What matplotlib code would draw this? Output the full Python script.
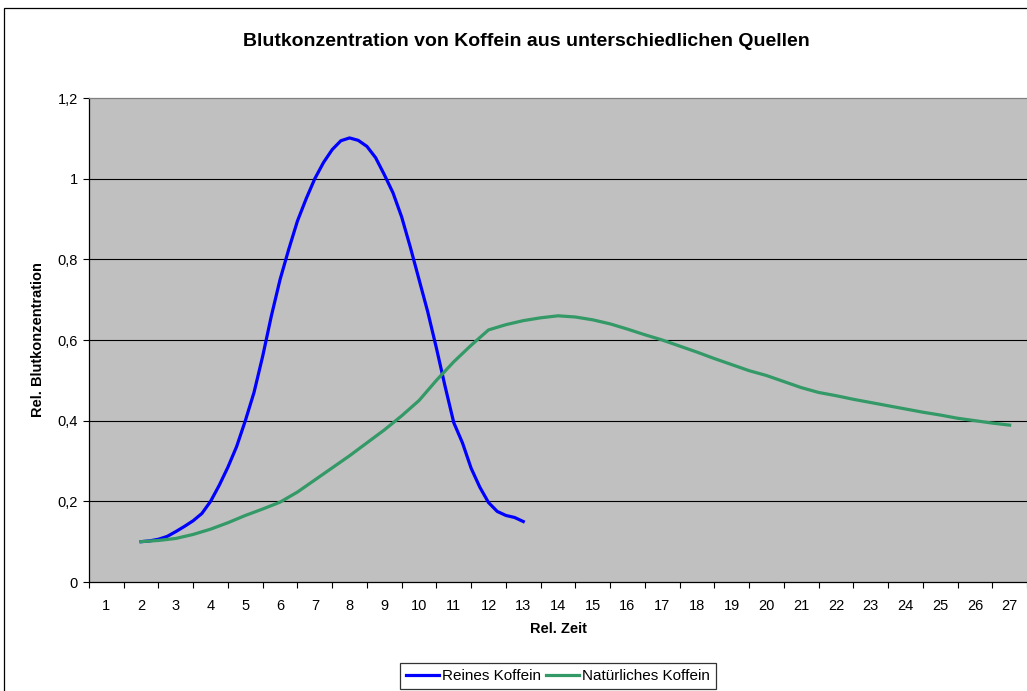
import matplotlib as mpl
mpl.use('Agg')
import matplotlib.pyplot as plt
from matplotlib.patches import Rectangle
import numpy as np

plt.rcParams['font.family'] = ['Liberation Sans', 'DejaVu Sans']

# Reines Koffein (Schritt 0,25)
x_rein = [2.0, 2.25, 2.5, 2.75, 3.0, 3.25, 3.5, 3.75, 4.0, 4.25, 4.5, 4.75,
          5.0, 5.25, 5.5, 5.75, 6.0, 6.25, 6.5, 6.75, 7.0, 7.25, 7.5, 7.75,
          8.0, 8.25, 8.5, 8.75, 9.0, 9.25, 9.5, 9.75, 10.0, 10.25, 10.5, 10.75,
          11.0, 11.25, 11.5, 11.75, 12.0, 12.25, 12.5, 12.75, 13.0]
y_rein = [0.100, 0.102, 0.106, 0.113, 0.125, 0.138, 0.152, 0.170, 0.200, 0.240,
          0.285, 0.336, 0.400, 0.470, 0.560, 0.660, 0.750, 0.825, 0.895, 0.950,
          1.000, 1.040, 1.072, 1.094, 1.101, 1.095, 1.080, 1.052, 1.010, 0.965,
          0.905, 0.830, 0.750, 0.670, 0.580, 0.485, 0.395, 0.345, 0.282, 0.235,
          0.197, 0.175, 0.165, 0.160, 0.150]

# Natuerliches Koffein (Schritt 0,5)
x_nat = [2.0, 2.5, 3.0, 3.5, 4.0, 4.5, 5.0, 5.5, 6.0, 6.5, 7.0, 7.5, 8.0, 8.5,
         9.0, 9.5, 10.0, 10.5, 11.0, 11.5, 12.0, 12.5, 13.0, 13.5, 14.0, 14.5,
         15.0, 15.5, 16.0, 16.5, 17.0, 17.5, 18.0, 18.5, 19.0, 19.5, 20.0, 20.5,
         21.0, 21.5, 22.0, 22.5, 23.0, 23.5, 24.0, 24.5, 25.0, 25.5, 26.0, 26.5, 27.0]
y_nat = [0.100, 0.103, 0.108, 0.118, 0.131, 0.147, 0.165, 0.181, 0.198, 0.223,
         0.253, 0.283, 0.313, 0.345, 0.377, 0.412, 0.450, 0.500, 0.546, 0.587,
         0.625, 0.638, 0.648, 0.655, 0.660, 0.657, 0.650, 0.640, 0.627, 0.613,
         0.600, 0.585, 0.570, 0.554, 0.539, 0.524, 0.512, 0.497, 0.482, 0.470,
         0.462, 0.453, 0.445, 0.437, 0.429, 0.421, 0.414, 0.406, 0.400, 0.394, 0.389]

categories = list(range(1, 28))
y_ticks = [0, 0.2, 0.4, 0.6, 0.8, 1.0, 1.2]
y_labels = ['0', '0,2', '0,4', '0,6', '0,8', '1', '1,2']

W, H = 1027, 691
fig = plt.figure(figsize=(W / 100, H / 100), dpi=100)
ax = fig.add_axes([89 / W, 1 - 582 / H, 1 - 89 / W, (582 - 98) / H])
ax.set_facecolor('#C0C0C0')

ax.plot(x_rein, y_rein, color='#0000FF', lw=2.3, label='Reines Koffein', solid_joinstyle='round')
ax.plot(x_nat, y_nat, color='#339966', lw=2.3, label='Natürliches Koffein', solid_joinstyle='round')

ax.set_xlim(0.5, 27.5)
ax.set_ylim(0, 1.2)

# Kategorieachse: Striche zwischen den Kategorien, Beschriftung mittig
ax.set_xticks(np.arange(0.5, 28, 1.0))
ax.set_xticklabels([])
ax.set_xticks(categories, minor=True)
ax.set_xticklabels([str(c) for c in categories], minor=True, fontsize=10.5)
ax.tick_params(axis='x', which='major', direction='out', length=4, width=0.8, color='black')
ax.tick_params(axis='x', which='minor', length=0, pad=12)

ax.set_yticks(y_ticks)
ax.set_yticklabels(y_labels, fontsize=10.5)
ax.tick_params(axis='y', direction='out', length=4, width=0.8, color='black', pad=4)

for v in y_ticks[1:-1]:
    ax.axhline(v, color='black', lw=0.8, zorder=1)

ax.spines['left'].set_color('black')
ax.spines['bottom'].set_color('black')
ax.spines['top'].set_color('#808080')
ax.spines['right'].set_visible(False)
for s in ax.spines.values():
    s.set_linewidth(0.9)

ax.set_xlabel('Rel. Zeit', fontsize=10.5, fontweight='bold', labelpad=7)
ax.set_ylabel('Rel. Blutkonzentration', fontsize=10.5, fontweight='bold', labelpad=9)

fig.text(526 / W, 1 - 42 / H, 'Blutkonzentration von Koffein aus unterschiedlichen Quellen',
         ha='center', va='center', fontsize=14, fontweight='bold')

leg = fig.legend(loc='upper center', bbox_to_anchor=(558 / W, 1 - 663 / H), ncol=2,
                 fontsize=11, frameon=True, fancybox=False, edgecolor='black',
                 handlelength=2.15, handletextpad=0.2, columnspacing=0.35,
                 borderpad=0.4, borderaxespad=0)
leg.get_frame().set_linewidth(0.9)

# Rahmen um das gesamte Diagramm
fig.patches.append(Rectangle((4 / W, -0.1), 1.2, 1.1 - 8 / H, transform=fig.transFigure,
                             fill=False, edgecolor='black', lw=0.9, clip_on=False))

fig.savefig('out.png', dpi=100)
